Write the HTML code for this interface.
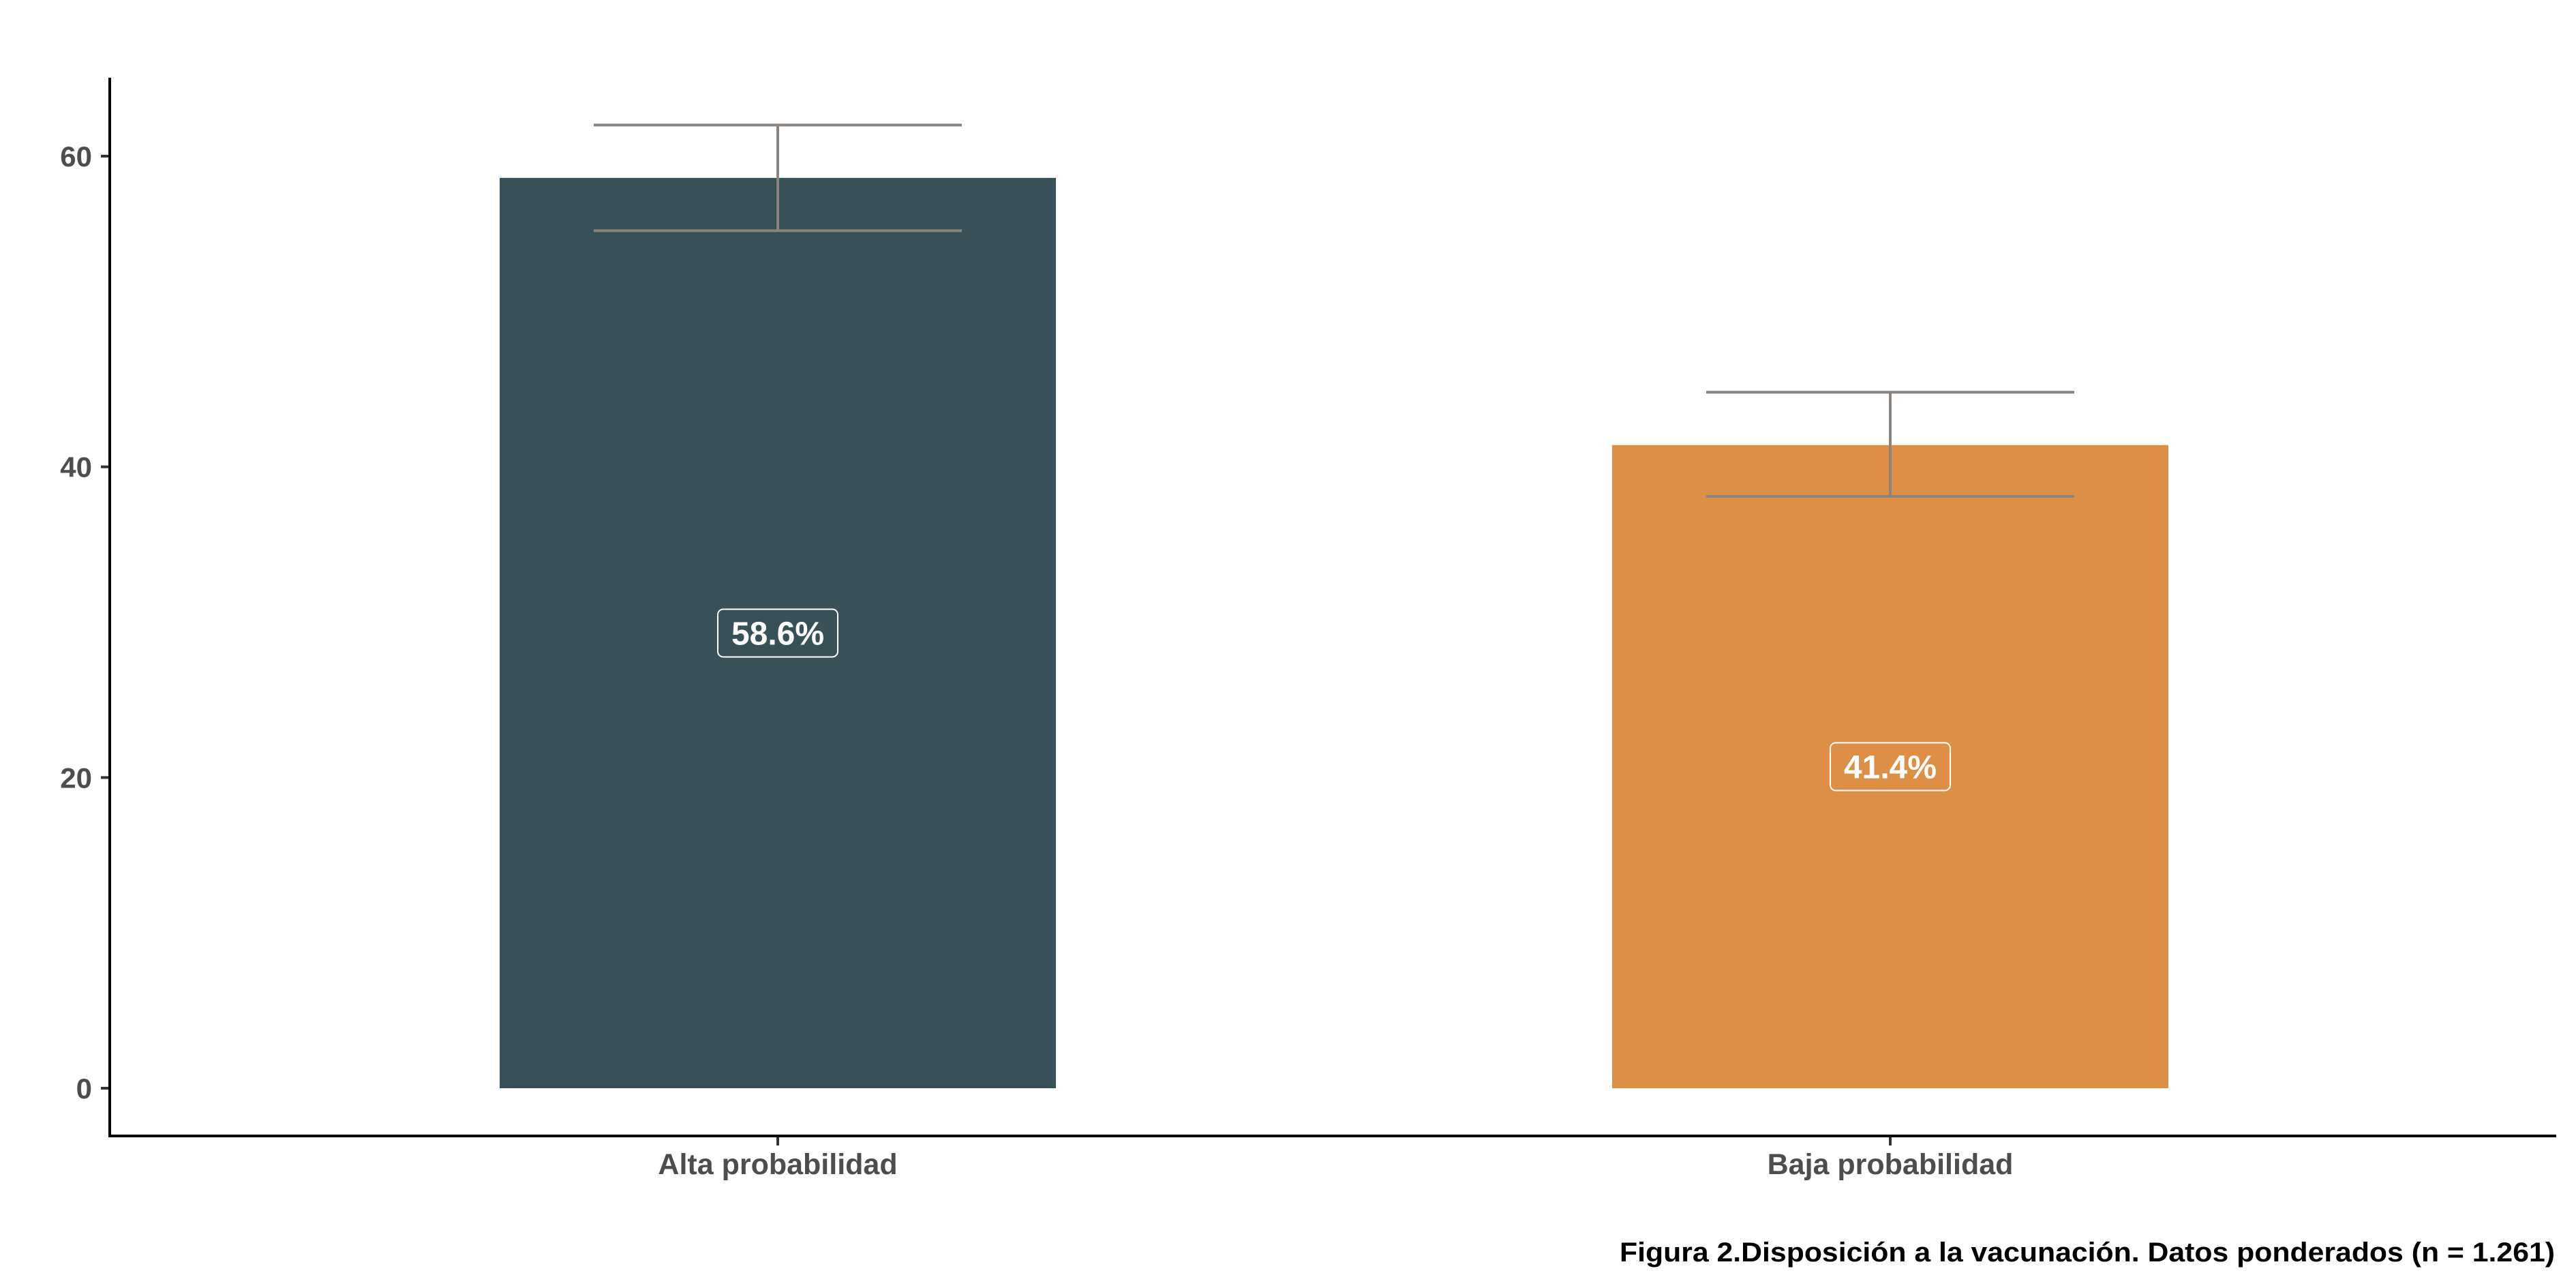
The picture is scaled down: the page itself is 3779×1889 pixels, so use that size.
<!DOCTYPE html>
<html><head><meta charset="utf-8"><style>html,body{margin:0;padding:0;background:#fff}svg{display:block}</style></head>
<body>
<svg id="chart" width="3779" height="1889" viewBox="0 0 3779 1889" xmlns="http://www.w3.org/2000/svg" font-family="'Liberation Sans', sans-serif"></svg>
<script>
const categories = ["Alta probabilidad", "Baja probabilidad"];
const values = [58.6, 41.4];
const errLow = [55.2, 38.1];
const errHigh = [62.0, 44.8];
const valueLabels = ["58.6%", "41.4%"];
const yTicks = [0, 20, 40, 60];
const colors = ["#385057", "#dd8f45"];

const NS = "http://www.w3.org/2000/svg";
const svg = document.getElementById("chart");
const y0 = 1596, perUnit = (1596 - 229) / 60;
function yScale(v){ return y0 - v * perUnit; }
const xCenters0 = 1141, xStep = 1632;
function xScale(i){ return xCenters0 + i * xStep; }
const barW = 816, capHalf = 270;
function mk(tag, attrs){ const e = document.createElementNS(NS, tag); for (const k in attrs) e.setAttribute(k, attrs[k]); svg.appendChild(e); return e; }

categories.forEach((c, i) => {
  const cx = xScale(i);
  const bar = mk("rect", {x: cx - barW/2, y: yScale(values[i]), width: barW, height: yScale(0) - yScale(values[i]), fill: colors[i]});
  
  
  const g = mk("g", {stroke: "#8a837e", "stroke-width": 4});
  
  
  [[cx-capHalf, yScale(errHigh[i]), cx+capHalf, yScale(errHigh[i])],
   [cx-capHalf, yScale(errLow[i]), cx+capHalf, yScale(errLow[i])],
   [cx, yScale(errHigh[i]), cx, yScale(errLow[i])]].forEach(l => {
    const ln = document.createElementNS(NS, "line");
    ln.setAttribute("x1", l[0]); ln.setAttribute("y1", l[1]); ln.setAttribute("x2", l[2]); ln.setAttribute("y2", l[3]);
    g.appendChild(ln);
  });
  const ly = yScale(values[i] / 2);
  const box = mk("rect", {x: cx - 88, y: ly - 35, width: 176, height: 70, rx: 8, fill: "none", stroke: "#fff", "stroke-width": 2});
  
  
  const t = mk("text", {x: cx, y: ly + 17, "text-anchor": "middle", "font-size": 48, "font-weight": "bold", fill: "#fff"});
  t.textContent = valueLabels[i];
  
  
  const tk = mk("line", {x1: cx, y1: 1666, x2: cx, y2: 1680, stroke: "#333", "stroke-width": 4});
  
  
  const xl = mk("text", {x: cx, y: 1722, "text-anchor": "middle", "font-size": 43, "font-weight": "bold", fill: "#4d4d4d"});
  xl.textContent = c;
  
  
});

yTicks.forEach(v => {
  const yy = yScale(v);
  const tk = mk("line", {x1: 148, y1: yy, x2: 161, y2: yy, stroke: "#333", "stroke-width": 4});
  
  
  const tl = mk("text", {x: 135, y: yy + 15, "text-anchor": "end", "font-size": 42, "font-weight": "bold", fill: "#4d4d4d"});
  tl.textContent = v;
  
  
});

const ya = mk("line", {x1: 161, y1: 114, x2: 161, y2: 1668, stroke: "#000", "stroke-width": 4});


const xa = mk("line", {x1: 159, y1: 1666, x2: 3750, y2: 1666, stroke: "#000", "stroke-width": 4});



const cap = mk("text", {x: 3748, y: 1850, "text-anchor": "end", "font-size": 40, "font-weight": "bold", fill: "#000", textLength: 1372, lengthAdjust: "spacingAndGlyphs"});
cap.textContent = "Figura 2.Disposición a la vacunación. Datos ponderados (n = 1.261)";


</script>
</body></html>
